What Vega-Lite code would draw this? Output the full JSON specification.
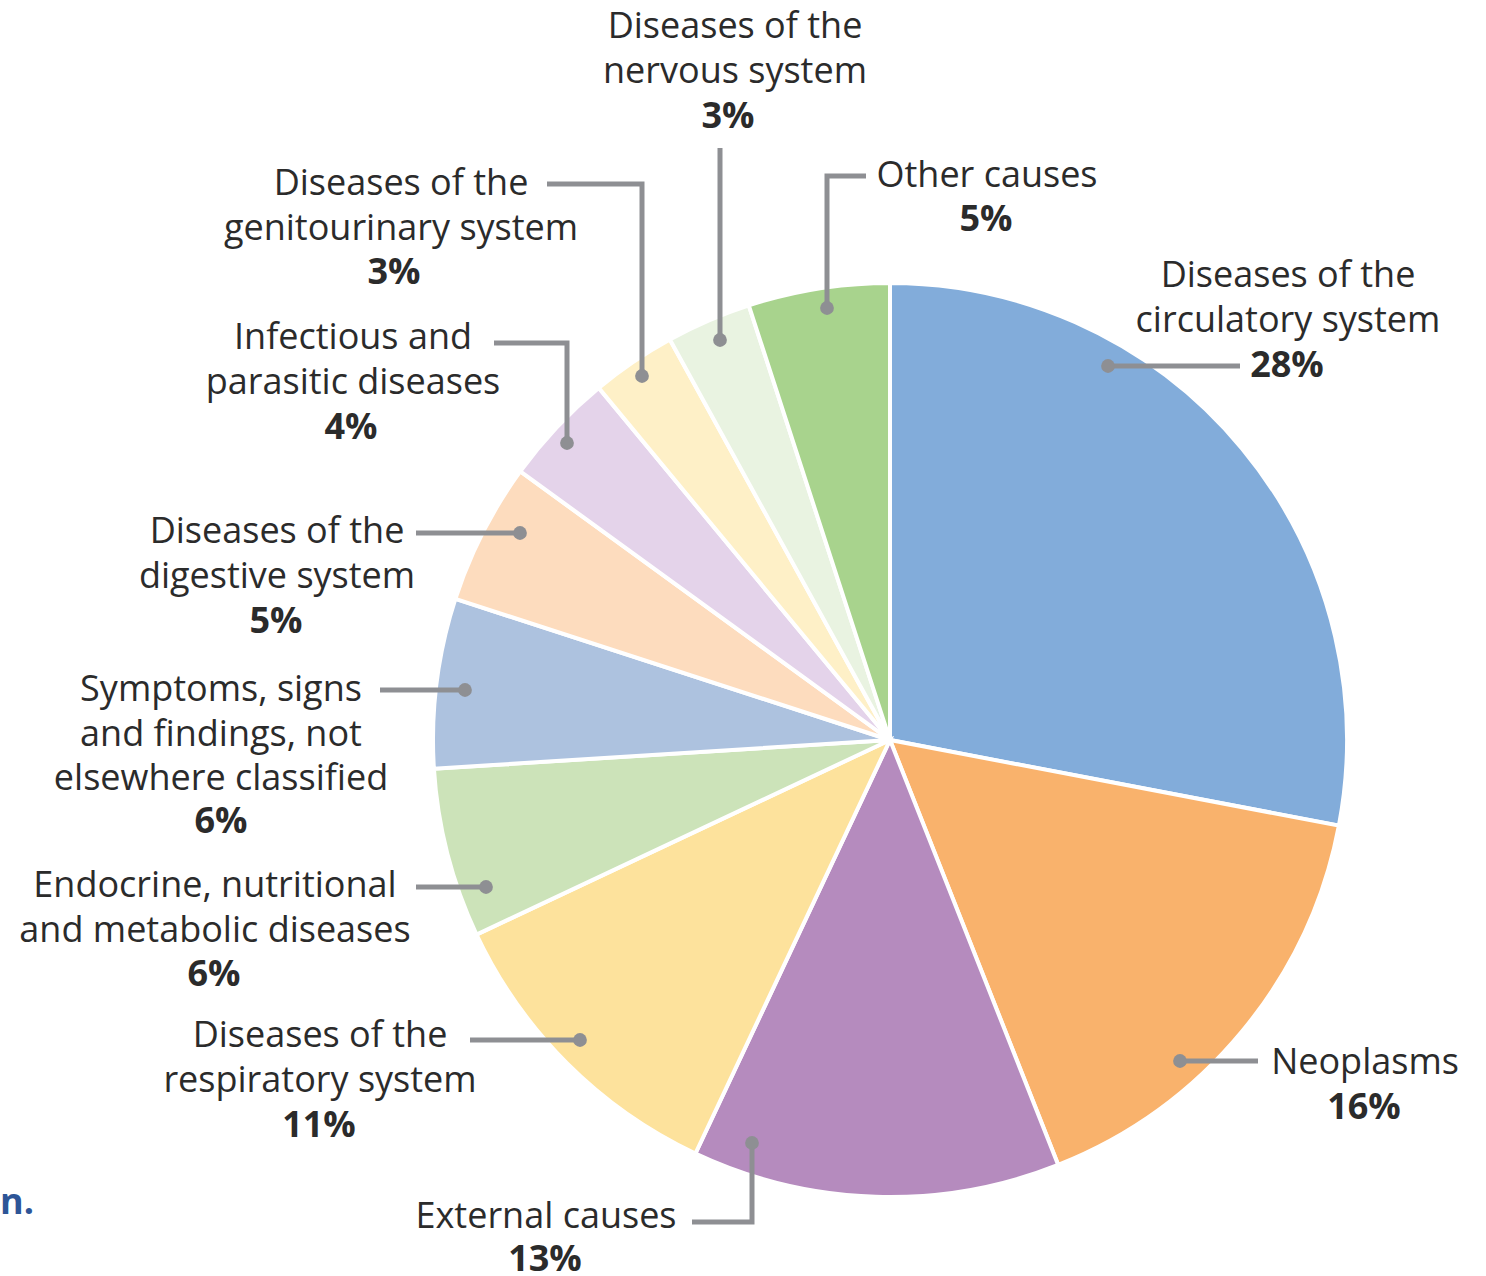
{
  "$schema": "https://vega.github.io/schema/vega-lite/v6.json",
  "width": 1486,
  "height": 1276,
  "autosize": "none",
  "padding": 0,
  "background": "white",
  "config": {"view": {"stroke": null}},
  "datasets": {
    "slices": [
      {"cause": "Diseases of the circulatory system", "value": 28, "idx": 1},
      {"cause": "Neoplasms", "value": 16, "idx": 2},
      {"cause": "External causes", "value": 13, "idx": 3},
      {"cause": "Diseases of the respiratory system", "value": 11, "idx": 4},
      {"cause": "Endocrine, nutritional and metabolic diseases", "value": 6, "idx": 5},
      {"cause": "Symptoms, signs and findings, not elsewhere classified", "value": 6, "idx": 6},
      {"cause": "Diseases of the digestive system", "value": 5, "idx": 7},
      {"cause": "Infectious and parasitic diseases", "value": 4, "idx": 8},
      {"cause": "Diseases of the genitourinary system", "value": 3, "idx": 9},
      {"cause": "Diseases of the nervous system", "value": 3, "idx": 10},
      {"cause": "Other causes", "value": 5, "idx": 11}
    ],
    "labels": [
      {"name": "Diseases of the\ncirculatory system", "pct": "28%", "nx": 398, "ny": 464, "px": 397, "py": 374},
      {"name": "Neoplasms", "pct": "16%", "nx": 475, "ny": -323, "px": 474, "py": -368},
      {"name": "External causes", "pct": "13%", "nx": -344, "ny": -477, "px": -345, "py": -520},
      {"name": "Diseases of the\nrespiratory system", "pct": "11%", "nx": -570, "ny": -296, "px": -571, "py": -386},
      {"name": "Endocrine, nutritional\nand metabolic diseases", "pct": "6%", "nx": -675, "ny": -146, "px": -676, "py": -235},
      {"name": "Symptoms, signs\nand findings, not\nelsewhere classified", "pct": "6%", "nx": -669, "ny": 50, "px": -669, "py": -82},
      {"name": "Diseases of the\ndigestive system", "pct": "5%", "nx": -613, "ny": 208, "px": -614, "py": 118},
      {"name": "Infectious and\nparasitic diseases", "pct": "4%", "nx": -537, "ny": 402, "px": -539, "py": 312},
      {"name": "Diseases of the\ngenitourinary system", "pct": "3%", "nx": -489, "ny": 556, "px": -496, "py": 467},
      {"name": "Diseases of the\nnervous system", "pct": "3%", "nx": -155, "ny": 713, "px": -162, "py": 623},
      {"name": "Other causes", "pct": "5%", "nx": 97, "ny": 564, "px": 96, "py": 520}
    ],
    "leaders": [
      {"id": 1, "seq": 1, "lx": 350, "ly": 374, "end": 0},
      {"id": 1, "seq": 2, "lx": 218, "ly": 374, "end": 1},
      {"id": 2, "seq": 1, "lx": 368, "ly": -321, "end": 0},
      {"id": 2, "seq": 2, "lx": 290, "ly": -321, "end": 1},
      {"id": 3, "seq": 1, "lx": -198, "ly": -482, "end": 0},
      {"id": 3, "seq": 2, "lx": -138, "ly": -482, "end": 0},
      {"id": 3, "seq": 3, "lx": -138, "ly": -403, "end": 1},
      {"id": 4, "seq": 1, "lx": -420, "ly": -300, "end": 0},
      {"id": 4, "seq": 2, "lx": -310, "ly": -300, "end": 1},
      {"id": 5, "seq": 1, "lx": -474, "ly": -147, "end": 0},
      {"id": 5, "seq": 2, "lx": -404, "ly": -147, "end": 1},
      {"id": 6, "seq": 1, "lx": -510, "ly": 50, "end": 0},
      {"id": 6, "seq": 2, "lx": -425, "ly": 50, "end": 1},
      {"id": 7, "seq": 1, "lx": -474, "ly": 207, "end": 0},
      {"id": 7, "seq": 2, "lx": -370, "ly": 207, "end": 1},
      {"id": 8, "seq": 1, "lx": -396, "ly": 397, "end": 0},
      {"id": 8, "seq": 2, "lx": -323, "ly": 397, "end": 0},
      {"id": 8, "seq": 3, "lx": -323, "ly": 297, "end": 1},
      {"id": 9, "seq": 1, "lx": -343, "ly": 556, "end": 0},
      {"id": 9, "seq": 2, "lx": -248, "ly": 556, "end": 0},
      {"id": 9, "seq": 3, "lx": -248, "ly": 364, "end": 1},
      {"id": 10, "seq": 1, "lx": -170, "ly": 592, "end": 0},
      {"id": 10, "seq": 2, "lx": -170, "ly": 400, "end": 1},
      {"id": 11, "seq": 1, "lx": -24, "ly": 564, "end": 0},
      {"id": 11, "seq": 2, "lx": -63, "ly": 564, "end": 0},
      {"id": 11, "seq": 3, "lx": -63, "ly": 432, "end": 1}
    ],
    "fragment": [
      {"t": "n.", "fx": -890, "fy": -463}
    ]
  },
  "layer": [
    {
      "data": {"name": "slices"},
      "mark": {"type": "arc", "outerRadius": 457, "stroke": "white", "strokeWidth": 4, "strokeJoin": "miter"},
      "encoding": {
        "x": {"datum": 0, "type": "quantitative", "scale": {"domain": [-890, 596], "nice": false, "zero": false}, "axis": null},
        "y": {"datum": 0, "type": "quantitative", "scale": {"domain": [-536, 740], "nice": false, "zero": false}, "axis": null},
        "theta": {"field": "value", "type": "quantitative", "stack": true},
        "order": {"field": "idx", "type": "quantitative"},
        "color": {
          "field": "cause", "type": "nominal", "legend": null,
          "scale": {
            "domain": ["Diseases of the circulatory system", "Neoplasms", "External causes", "Diseases of the respiratory system", "Endocrine, nutritional and metabolic diseases", "Symptoms, signs and findings, not elsewhere classified", "Diseases of the digestive system", "Infectious and parasitic diseases", "Diseases of the genitourinary system", "Diseases of the nervous system", "Other causes"],
            "range": ["#82ACDA", "#F9B26C", "#B58BBE", "#FDE29C", "#CCE3B9", "#ADC2DF", "#FDDCBE", "#E4D3EA", "#FEF0C7", "#E9F3E1", "#A8D38D"]
          }
        }
      }
    },
    {
      "data": {"name": "leaders"},
      "mark": {"type": "line", "color": "#8E8F93", "strokeWidth": 5, "strokeJoin": "miter", "strokeCap": "butt"},
      "encoding": {
        "x": {"field": "lx", "type": "quantitative"},
        "y": {"field": "ly", "type": "quantitative"},
        "detail": {"field": "id", "type": "nominal"},
        "order": {"field": "seq", "type": "quantitative"}
      }
    },
    {
      "data": {"name": "leaders"},
      "transform": [{"filter": "datum.end === 1"}],
      "mark": {"type": "point", "filled": true, "color": "#8E8F93", "opacity": 1, "size": 190},
      "encoding": {
        "x": {"field": "lx", "type": "quantitative"},
        "y": {"field": "ly", "type": "quantitative"}
      }
    },
    {
      "data": {"name": "labels"},
      "mark": {"type": "text", "font": "Open Sans", "fontSize": 36, "color": "#2b2b2b", "align": "center", "baseline": "middle", "lineHeight": 44.5, "lineBreak": "\n"},
      "encoding": {
        "x": {"field": "nx", "type": "quantitative"},
        "y": {"field": "ny", "type": "quantitative"},
        "text": {"field": "name", "type": "nominal"}
      }
    },
    {
      "data": {"name": "labels"},
      "mark": {"type": "text", "font": "Open Sans", "fontSize": 36, "fontWeight": "bold", "color": "#2b2b2b", "align": "center", "baseline": "middle"},
      "encoding": {
        "x": {"field": "px", "type": "quantitative"},
        "y": {"field": "py", "type": "quantitative"},
        "text": {"field": "pct", "type": "nominal"}
      }
    },
    {
      "data": {"name": "fragment"},
      "mark": {"type": "text", "font": "Open Sans", "fontSize": 36, "fontWeight": "bold", "color": "#2D5597", "align": "left", "baseline": "middle"},
      "encoding": {
        "x": {"field": "fx", "type": "quantitative"},
        "y": {"field": "fy", "type": "quantitative"},
        "text": {"field": "t", "type": "nominal"}
      }
    }
  ]
}
